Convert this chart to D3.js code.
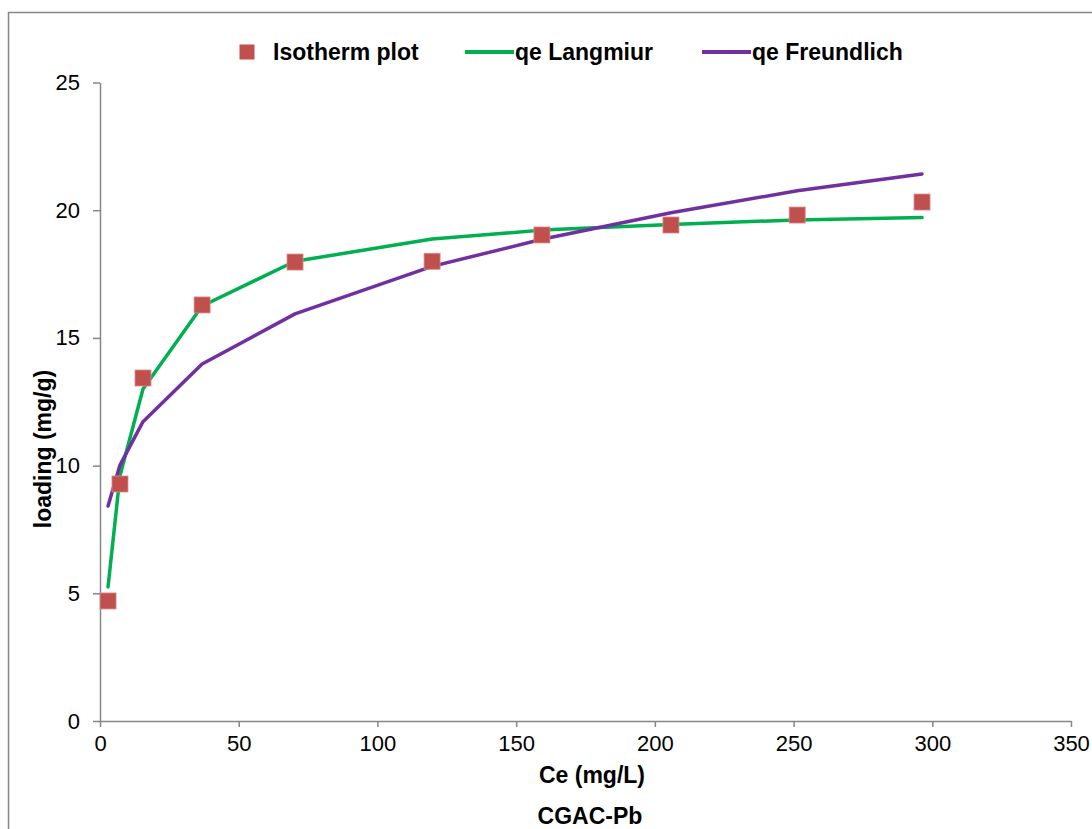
<!DOCTYPE html>
<html>
<head>
<meta charset="utf-8">
<script src="https://cdn.jsdelivr.net/npm/d3@7"></script>
<style>
  body { margin: 0; background: #fff; }
  svg text { font-family: "Liberation Sans", Arial, sans-serif; fill: #000; }
</style>
</head>
<body>
<div id="chart"></div>
<script>
// Ce (mg/L) for each sample
var ceValues = [2.9, 7.2, 15.5, 36.8, 70.3, 119.7, 159.3, 205.8, 251.3, 296.3];
// measured loading
var qeIsotherm = [4.70, 9.28, 13.43, 16.29, 17.97, 18.0, 19.03, 19.42, 19.81, 20.32];
// model fits
var qeLangmuir = [5.25, 9.6, 13.0, 16.25, 18.0, 18.87, 19.22, 19.44, 19.62, 19.71];
var qeFreundlich = [8.42, 10.02, 11.72, 13.98, 15.94, 17.8, 18.86, 19.9, 20.76, 21.42];
var xTicks = [0, 50, 100, 150, 200, 250, 300, 350];
var yTicks = [0, 5, 10, 15, 20, 25];
var legendLabels = ["Isotherm plot", "qe Langmiur", "qe Freundlich"];

var WIDTH = 1092, HEIGHT = 829;
var MARGINS = { top: 82.5, right: 21, bottom: 108, left: 100 };
var colors = { marker: "#C0504D", langmuir: "#00B050", freundlich: "#7030A0", axis: "#868686" };

var svg = d3.select("#chart").append("svg").attr("width", WIDTH).attr("height", HEIGHT);

// outer chart border (runs off the right and bottom)
svg.append("path").attr("d", "M8.5," + (HEIGHT + 5) + " L8.5,12.5 L" + (WIDTH + 5) + ",12.5")
    .attr("fill", "none").attr("stroke", colors.axis).attr("stroke-width", 1.5);

var xScale = d3.scaleLinear().domain([0, 350]).range([MARGINS.left, WIDTH - MARGINS.right]);
var yScale = d3.scaleLinear().domain([0, 25]).range([HEIGHT - MARGINS.bottom, MARGINS.top]);

var xAxis = d3.axisBottom(xScale).tickValues(xTicks).tickSize(6).tickSizeOuter(0).tickPadding(8);
var yAxis = d3.axisLeft(yScale).tickValues(yTicks).tickSize(7).tickSizeOuter(0).tickPadding(13);

var gX = svg.append("g").attr("transform", "translate(0," + yScale(0) + ")").call(xAxis);
var gY = svg.append("g").attr("transform", "translate(" + xScale(0) + ",0)").call(yAxis);
[gX, gY].forEach(function(g) {
  g.selectAll("path, line").attr("stroke", colors.axis).attr("stroke-width", 1.5);
  g.selectAll("text").style("font-size", "22px").attr("fill", "#000");
});
gX.selectAll("text").attr("dy", "0.71em");

// lines
var lineGen = function(vals) {
  return d3.line().x(function(d, i) { return xScale(ceValues[i]); })
    .y(function(d) { return yScale(d); })(vals);
};
svg.append("path").attr("d", lineGen(qeLangmuir)).attr("fill", "none")
  .attr("stroke", colors.langmuir).attr("stroke-width", 3.5).attr("stroke-linecap", "round")
  .attr("stroke-linejoin", "round");
svg.append("path").attr("d", lineGen(qeFreundlich)).attr("fill", "none")
  .attr("stroke", colors.freundlich).attr("stroke-width", 3.5).attr("stroke-linecap", "round")
  .attr("stroke-linejoin", "round");

// markers
var MS = 16;
svg.append("g").selectAll("rect").data(qeIsotherm).enter().append("rect")
  .attr("x", function(d, i) { return xScale(ceValues[i]) - MS / 2; })
  .attr("y", function(d) { return yScale(d) - MS / 2; })
  .attr("width", MS).attr("height", MS)
  .attr("fill", colors.marker).attr("stroke", "#D98A88").attr("stroke-width", 0.8);

// axis titles
svg.append("text").attr("x", 592).attr("y", 783).attr("text-anchor", "middle")
  .style("font-size", "23px").style("font-weight", "bold").text("Ce (mg/L)");
svg.append("text").attr("x", 590).attr("y", 824).attr("text-anchor", "middle")
  .style("font-size", "23px").style("font-weight", "bold").text("CGAC-Pb");
svg.append("text").attr("transform", "translate(51,449) rotate(-90)").attr("text-anchor", "middle")
  .style("font-size", "23px").style("font-weight", "bold").text("loading (mg/g)");

// legend
var legend = svg.append("g").attr("class", "legend");
var legY = 52;
legend.append("rect").attr("x", 239.5).attr("y", legY - 7.5).attr("width", 15).attr("height", 15)
  .attr("fill", colors.marker);
legend.append("line").attr("x1", 465).attr("x2", 514).attr("y1", legY).attr("y2", legY)
  .attr("stroke", colors.langmuir).attr("stroke-width", 4);
legend.append("line").attr("x1", 702).attr("x2", 751).attr("y1", legY).attr("y2", legY)
  .attr("stroke", colors.freundlich).attr("stroke-width", 4);
[273, 515, 752].forEach(function(x, i) {
  legend.append("text").attr("x", x).attr("y", legY + 8).style("font-size", "23px")
    .style("font-weight", "bold").text(legendLabels[i]);
});
</script>
</body>
</html>
